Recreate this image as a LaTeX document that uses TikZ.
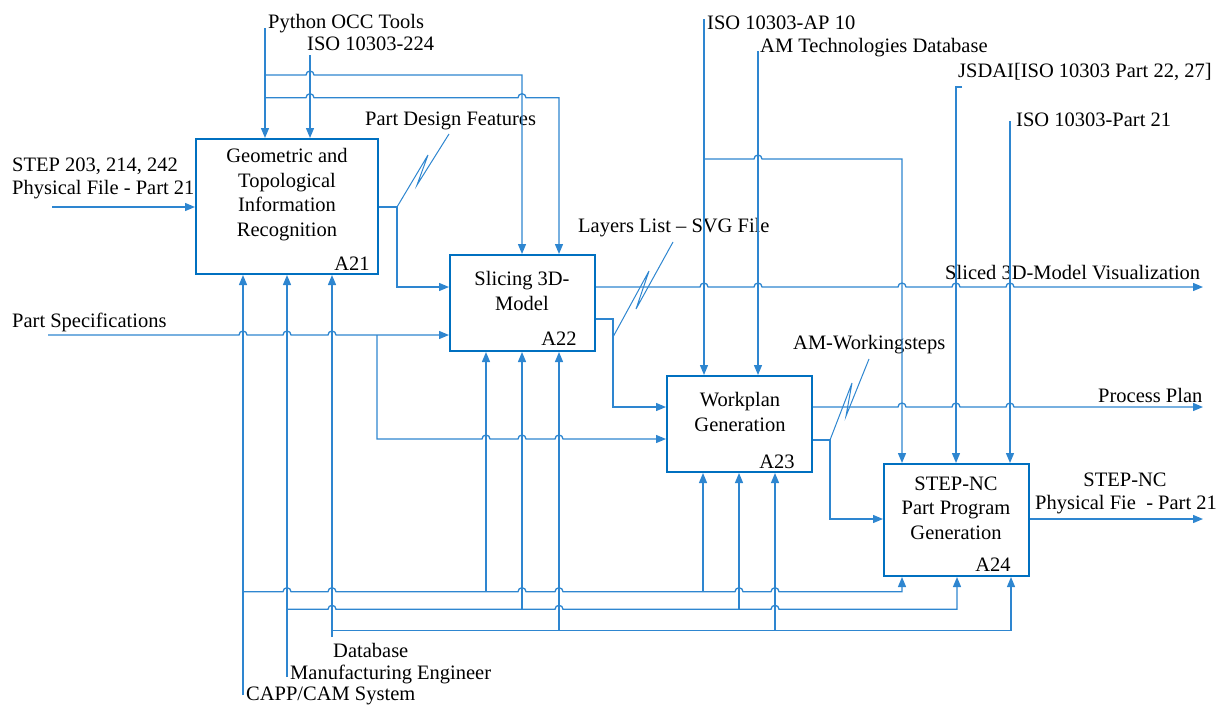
\documentclass[tikz,border=0pt]{standalone}
\usepackage{fontspec}
\setmainfont{Liberation Serif}
\usetikzlibrary{arrows.meta}
\definecolor{boxblue}{RGB}{0,112,192}
\definecolor{lineblue}{RGB}{46,134,208}
\newcommand\hp[2]{-- ({#1-4},#2) arc[start angle=180,end angle=360,radius=4]}
\tikzset{
  box/.style={draw=boxblue, line width=2pt, inner sep=0pt},
  conn/.style={draw=lineblue, line width=1.3pt, -{Triangle[length=10pt,width=8pt]}},
  plain/.style={draw=lineblue, line width=1.3pt},
  squig/.style={draw=lineblue, line width=1pt},
  txt/.style={font=\fontsize{20.5}{24.5}\selectfont, inner sep=0pt, text=black},
  lbl/.style={txt, anchor=west}
}
\begin{document}
\begin{tikzpicture}[x=1pt,y=-1pt]
\useasboundingbox (0,0) rectangle (1217,704);
% boxes
\node[box, minimum width=182, minimum height=135] (A21) at (287,206.5) {};
\node[box, minimum width=145, minimum height=96] (A22) at (522.5,303) {};
\node[box, minimum width=145, minimum height=96] (A23) at (739.5,424) {};
\node[box, minimum width=145, minimum height=112] (A24) at (956.5,520) {};
% box texts
\node[txt, align=center] (A21t) at (287,194.5) {Geometric and\\Topological\\Information\\Recognition};
\node[txt] (A21n) at (352,264) {A21};
\node[txt, align=center] (A22t) at (522,291) {Slicing 3D-\\Model};
\node[txt] (A22n) at (559,339) {A22};
\node[txt, align=center] (A23t) at (740,412) {Workplan\\Generation};
\node[txt] (A23n) at (777,462) {A23};
\node[txt, align=center] (A24t) at (956,508) {STEP-NC\\Part Program\\Generation};
\node[txt] (A24n) at (993,565) {A24};
% labels
\node[lbl] (Lpy) at (268,24) {Python OCC Tools};
\node[lbl] (Liso) at (307,44) {ISO 10303-224};
\node[lbl] (Lpdf) at (365,121) {Part Design Features};
\node[lbl] (Lstep1) at (12,166) {STEP 203, 214, 242};
\node[lbl] (Lstep2) at (12,190) {Physical File - Part 21};
\node[lbl] (Lspec) at (12,322) {Part Specifications};
\node[lbl] (Llay) at (578,228) {Layers List -- SVG File};
\node[lbl] (Lap) at (707,23) {ISO 10303-AP 10};
\node[lbl] (Lam) at (760,48) {AM Technologies Database};
\node[lbl] (Ljs) at (958,72) {JSDAI[ISO 10303 Part 22, 27]};
\node[lbl] (Lp21) at (1016,120) {ISO 10303-Part 21};
\node[lbl] (Lviz) at (945,273) {Sliced 3D-Model Visualization};
\node[lbl] (Lamw) at (793,345) {AM-Workingsteps};
\node[lbl] (Lpp) at (1098,395) {Process Plan};
\node[txt] (Lnc1) at (1125,480) {STEP-NC};
\node[lbl] (Lnc2) at (1035,505) {Physical Fie\ \ - Part 21};
\node[lbl] (Ldb) at (333,650) {Database};
\node[lbl] (Lmfg) at (290,674) {Manufacturing Engineer};
\node[lbl] (Lcap) at (246,696) {CAPP/CAM System};
% free ends
\coordinate (pyS) at (265,28);
\coordinate (isoS) at (310,55);
\coordinate (stepS) at (52,207);
\coordinate (specS) at (48,335);
\coordinate (capS) at (243,695);
\coordinate (mfgS) at (287,677);
\coordinate (dbS) at (332,637);
\coordinate (apS) at (704,19);
\coordinate (amS) at (758,51);
\coordinate (jsS) at (962,87);
\coordinate (p21S) at (1010,121);
\coordinate (vizE) at (1203,287);
\coordinate (ppE) at (1203,407);
\coordinate (ncE) at (1203,519);
% A21 controls and input
\draw[conn] (pyS) -- (pyS |- A21.north);
\draw[conn] (isoS) -- (isoS |- A21.north);
\draw[conn] (265,75) \hp{310}{75} -- (522,75) -- (522,0 |- A22.north);
\draw[conn] (265,97.7) \hp{310}{97.7} \hp{522}{97.7} -- (559,97.7) -- (559,0 |- A22.north);
\draw[conn] (stepS) -- (A21.west |- stepS);
% A21 output
\draw[conn] (A21.east |- 0,207) -- (397,207) -- (397,287) -- (A22.west |- 0,287);
\draw[squig] (397,207) -- (428,155) -- (417,185) -- (449,134);
% part specifications
\draw[conn] (specS) \hp{243}{335} \hp{287}{335} \hp{332}{335} -- (A22.west |- 0,335);
\draw[conn] (377,335) -- (377,439) \hp{486}{439} \hp{522}{439} \hp{559}{439} -- (A23.west |- 0,439);
% mechanisms
\draw[conn] (capS) -- (capS |- A21.south);
\draw[conn] (mfgS) -- (mfgS |- A21.south);
\draw[conn] (dbS) -- (dbS |- A21.south);
\draw[conn] (243,591.7) \hp{287}{591.7} \hp{332}{591.7} -- (486,591.7) \hp{522}{591.7} \hp{559}{591.7} -- (703,591.7) \hp{739}{591.7} \hp{775}{591.7} -- (902,591.7) -- (902,0 |- A24.south);
\draw[conn] (486,591.7) -- (486,0 |- A22.south);
\draw[conn] (703,591.7) -- (703,0 |- A23.south);
\draw[conn] (287,609.3) \hp{332}{609.3} -- (522,609.3) \hp{559}{609.3} -- (739,609.3) \hp{775}{609.3} -- (957,609.3) -- (957,0 |- A24.south);
\draw[conn] (522,609.3) -- (522,0 |- A22.south);
\draw[conn] (739,609.3) -- (739,0 |- A23.south);
\draw[conn] (332,630.7) -- (1011,630.7) -- (1011,0 |- A24.south);
\draw[conn] (559,630.7) -- (559,0 |- A22.south);
\draw[conn] (775,630.7) -- (775,0 |- A23.south);
% A22 outputs
\draw[conn] (A22.east |- 0,287) \hp{704}{287} \hp{758}{287} \hp{902}{287} \hp{956}{287} \hp{1010}{287} -- (vizE);
\draw[conn] (A22.east |- 0,319) -- (613,319) -- (613,407) -- (A23.west |- 0,407);
\draw[squig] (613,337) -- (649,271) -- (636,309) -- (673,242);
% top right controls
\draw[conn] (apS) -- (apS |- A23.north);
\draw[conn] (amS) -- (amS |- A23.north);
\draw[conn] (704,159) \hp{758}{159} -- (902,159) -- (902,0 |- A24.north);
\draw[conn] (jsS) -- (956,87) -- (956,0 |- A24.north);
\draw[conn] (p21S) -- (p21S |- A24.north);
% A23 outputs
\draw[conn] (A23.east |- 0,407) \hp{902}{407} \hp{956}{407} \hp{1010}{407} -- (ppE);
\draw[conn] (A23.east |- 0,440) -- (830,440) -- (830,519) -- (A24.west |- 0,519);
\draw[squig] (830,440) -- (852,383) -- (846,416) -- (869,359);
% A24 output
\draw[conn] (A24.east |- 0,519) -- (ncE);
\end{tikzpicture}
\end{document}
